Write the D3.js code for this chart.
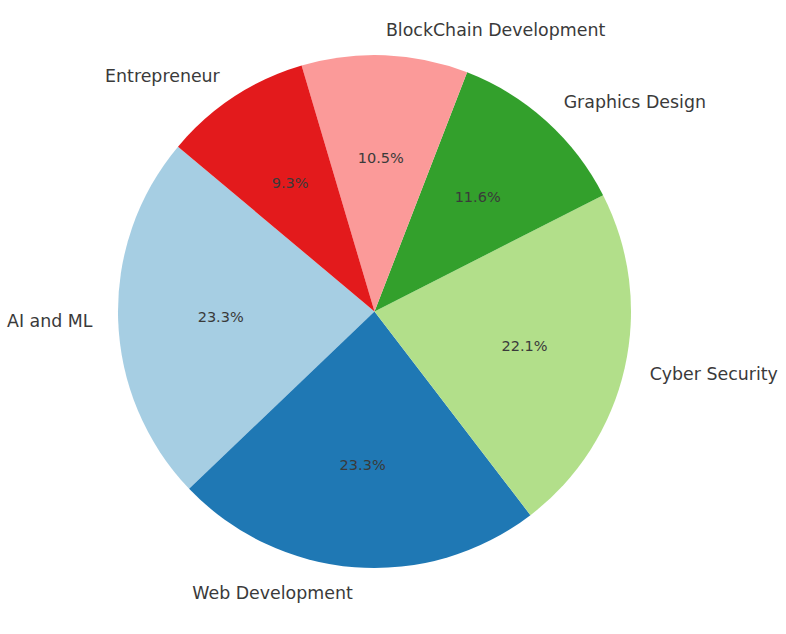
<!DOCTYPE html>
<html><head><meta charset="utf-8">
<script src="https://cdn.jsdelivr.net/npm/d3@7"></script>
<style>body{margin:0;background:#fff;}</style>
</head><body>
<svg id="c" width="786" height="634"></svg>
<script>
const categories = ["AI and ML","Web Development","Cyber Security","Graphics Design","BlockChain Development","Entrepreneur"];
const values = [20,20,19,10,9,8];
const colors = ["#a6cee3","#1f78b4","#b2df8a","#33a02c","#fb9a99","#e31a1c"];

const cx = 374.5, cy = 311.5, r = 256.5;
const startDeg = 140; // matplotlib startangle, counterclockwise
const svg = d3.select("#c");
const g = svg.append("g").attr("transform", `translate(${cx},${cy})`);
const s0 = (90 - startDeg) * Math.PI / 180;
const pie = d3.pie().sort(null).startAngle(s0).endAngle(s0 - 2*Math.PI);
const arcs = pie(values);
const arc = d3.arc().innerRadius(0).outerRadius(r);
const total = d3.sum(values);

g.selectAll("path").data(arcs).enter().append("path")
  .attr("d", arc).attr("fill", (d,i) => colors[i]);

arcs.forEach((d,i) => {
  const a = (d.startAngle + d.endAngle)/2;
  const lx = 1.1*r*Math.sin(a), ly = -1.1*r*Math.cos(a);
  g.append("text").attr("x", lx).attr("y", ly)
    .attr("text-anchor", lx > 0 ? "start" : "end")
    .attr("dominant-baseline", "central")
    .attr("font-family", "DejaVu Sans").attr("font-size", 17.4).attr("fill", "#3a3a3a")
    .text(categories[i]);
  const px = 0.6*r*Math.sin(a), py = -0.6*r*Math.cos(a);
  g.append("text").attr("x", px).attr("y", py)
    .attr("text-anchor", "middle").attr("dominant-baseline", "central")
    .attr("font-family", "DejaVu Sans").attr("font-size", 14.5).attr("fill", "#3a3a3a")
    .text((values[i]/total*100).toFixed(1) + "%");
});
</script>
</body></html>
